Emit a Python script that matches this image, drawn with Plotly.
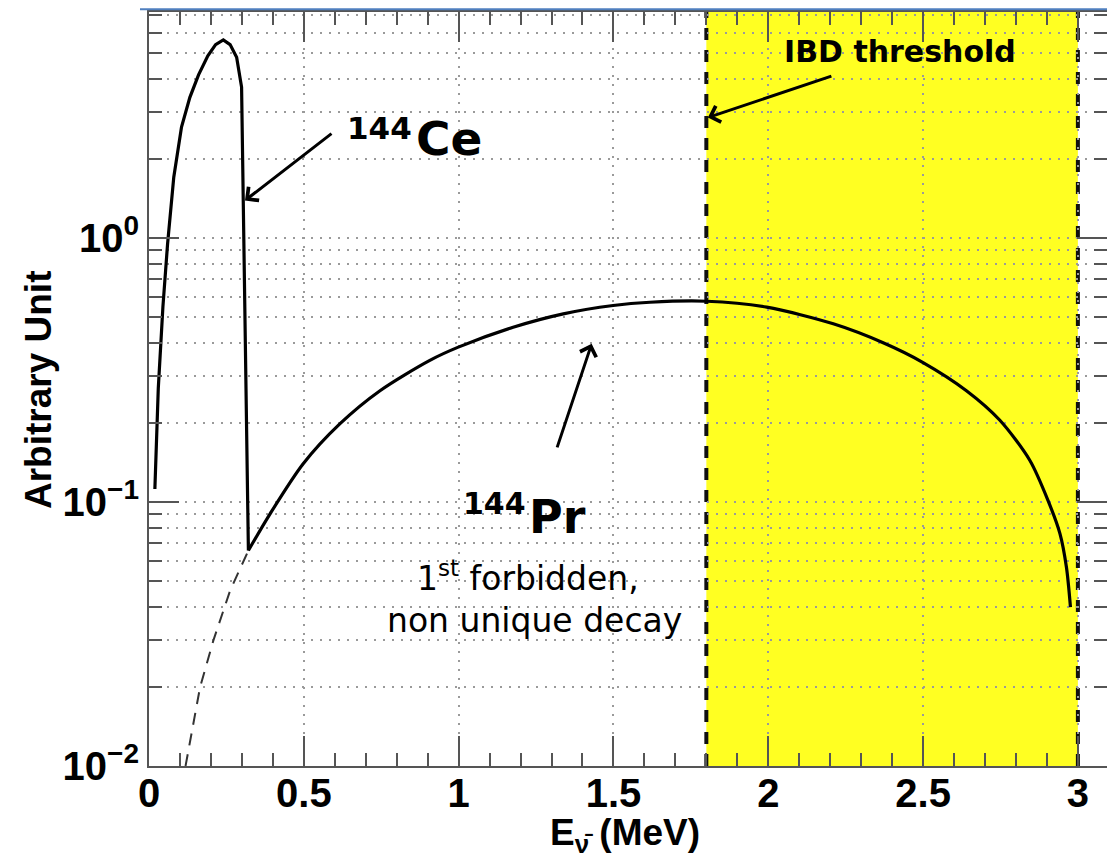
import plotly.graph_objects as go

# ---------------- data ----------------
# 144Ce + 144Pr summed spectrum, low-energy part (MeV, arbitrary units)
ce_energy = [0.019, 0.030, 0.045, 0.060, 0.080, 0.105, 0.132, 0.160, 0.190,
             0.215, 0.240, 0.262, 0.283, 0.299, 0.321]
ce_value = [0.112, 0.27, 0.55, 0.95, 1.70, 2.63, 3.41, 4.15, 4.90,
            5.40, 5.63, 5.40, 4.84, 3.73, 0.0655]

# 144Pr spectrum (solid part)
pr_energy = [0.321, 0.391, 0.498, 0.617, 0.746, 0.907, 0.999, 1.176, 1.338,
             1.499, 1.618, 1.801, 1.995, 2.210, 2.371, 2.500, 2.640, 2.748,
             2.845, 2.904, 2.942, 2.963, 2.976]
pr_value = [0.0655, 0.0902, 0.1396, 0.198, 0.264, 0.344, 0.386, 0.459, 0.516,
            0.555, 0.571, 0.576, 0.547, 0.473, 0.401, 0.3375, 0.264, 0.204,
            0.1436, 0.101, 0.0759, 0.0566, 0.040]

# 144Pr spectrum below the Ce endpoint (dashed)
pr_low_energy = [0.118, 0.165, 0.208, 0.262, 0.321]
pr_low_value = [0.010, 0.0199, 0.0299, 0.0462, 0.0655]

ibd_threshold = 1.8
pr_endpoint = 3.0

x_tick_values = [0, 0.5, 1, 1.5, 2, 2.5, 3]
x_tick_labels = ["0", "0.5", "1", "1.5", "2", "2.5", "3"]
x_minor_values = [0.1, 0.2, 0.3, 0.4, 0.6, 0.7, 0.8, 0.9, 1.1, 1.2, 1.3, 1.4,
                  1.6, 1.7, 1.8, 1.9, 2.1, 2.2, 2.3, 2.4, 2.6, 2.7, 2.8, 2.9, 3.1]
y_tick_values = [0.01, 0.1, 1]
y_tick_labels = ["10<sup>\u22122</sup>", "10<sup>\u22121</sup>", "10<sup>0</sup>"]
y_minor_values = [m * d for d in (0.01, 0.1, 1) for m in range(2, 10)]

FONT = "Liberation Sans, Arial, Helvetica, sans-serif"
NOTE_FONT = "DejaVu Sans, Verdana, sans-serif"
AXC = "#555555"
GRIDC = "#9a9a9a"

fig = go.Figure()

fig.add_trace(go.Scatter(x=pr_low_energy, y=pr_low_value, mode="lines",
                         line=dict(color="#333333", width=2, dash="12px,9px"),
                         showlegend=False, hoverinfo="skip"))
fig.add_trace(go.Scatter(x=ce_energy, y=ce_value, mode="lines",
                         line=dict(color="black", width=3.2),
                         showlegend=False))
fig.add_trace(go.Scatter(x=pr_energy, y=pr_value, mode="lines",
                         line=dict(color="black", width=3.2, shape="spline", smoothing=0.8),
                         showlegend=False))

# yellow region above IBD threshold
fig.add_shape(type="rect", xref="x", yref="paper", x0=ibd_threshold, x1=pr_endpoint,
              y0=0, y1=1, fillcolor="#FFFF22", line=dict(width=0), layer="below")
for xv in (ibd_threshold, pr_endpoint):
    fig.add_shape(type="line", xref="x", yref="paper", x0=xv, x1=xv, y0=0, y1=1,
                  line=dict(color="#111111", width=4, dash="12px,10px"), layer="below")

# thin blue line at the very top of the screenshot
fig.add_shape(type="line", xref="paper", yref="paper", x0=-0.0094, x1=1.0,
              y0=1.0035, y1=1.0035, line=dict(color="#4f7fbf", width=2))

axis_common = dict(
    showline=True, linecolor=AXC, linewidth=2, mirror="allticks",
    ticks="inside", ticklen=30, tickwidth=2, tickcolor=AXC,
    showgrid=True, gridcolor=GRIDC, gridwidth=1.5, griddash="2px,7px",
    zeroline=False,
    tickfont=dict(family=FONT, size=40, color="black", weight="bold"),
)

fig.update_xaxes(range=[0, 3.094], tickmode="array", tickvals=x_tick_values,
                 ticktext=x_tick_labels, ticklabelstandoff=-9,
                 minor=dict(tickmode="array", tickvals=x_minor_values, ticks="inside",
                            ticklen=13, tickwidth=2, tickcolor=AXC, showgrid=False),
                 **axis_common)
fig.update_yaxes(type="log", range=[-2, 0.856], tickmode="array",
                 tickvals=y_tick_values, ticktext=y_tick_labels,
                 ticklabelstandoff=0,
                 minor=dict(tickmode="array", tickvals=y_minor_values, ticks="inside",
                            ticklen=13, tickwidth=2, tickcolor=AXC, showgrid=True,
                            gridcolor=GRIDC, gridwidth=1.5, griddash="2px,7px"),
                 **axis_common)


def note(x, y, text, size, bold=True, xanchor="center", yanchor="middle"):
    return dict(x=x, y=y, xref="x", yref="y", xanchor=xanchor, yanchor=yanchor,
                text=text, showarrow=False, borderpad=0,
                font=dict(family=NOTE_FONT, size=size, color="black",
                          weight="bold" if bold else "normal"))


def arrow(x, y, ax, ay):
    return dict(x=x, y=y, xref="x", yref="y", text="", showarrow=True,
                ax=ax, ay=ay, arrowhead=4, arrowsize=1.1, arrowwidth=3,
                arrowcolor="black")


ann = [
    # 144Ce (y positions are log10 values on the log axis)
    note(0.8525, 0.4167, "144", 31, xanchor="right"),
    note(0.859, 0.375, "Ce", 47, xanchor="left"),
    arrow(0.310, 0.142, 88, -68),
    # IBD threshold
    note(2.425, 0.706, "IBD threshold", 30),
    arrow(1.805, 0.456, 125, -42),
    # 144Pr
    note(1.2207, -1.004, "144", 30, xanchor="right"),
    note(1.2239, -1.055, "Pr", 46, xanchor="left"),
    arrow(1.4296, -0.401, -35, 105),
    note(1.2255, -1.282, "1<sup>st</sup> forbidden,", 33, bold=False),
    note(1.2465, -1.449, "non unique decay", 33, bold=False),
    # axis titles
    dict(x=0.497, y=-0.0915, xref="paper", yref="paper", xanchor="center",
         yanchor="middle", text="E<sub>\u03bd\u0304</sub> (MeV)", showarrow=False,
         borderpad=0,
         font=dict(family=FONT, size=37, color="black", weight="bold")),
    dict(x=-0.1148, y=0.4987, xref="paper", yref="paper", xanchor="center",
         yanchor="middle", text="Arbitrary Unit", textangle=-90, showarrow=False,
         font=dict(family=FONT, size=37, color="black", weight="bold")),
]

fig.update_layout(
    width=1107, height=860,
    margin=dict(l=149, r=0, t=12, b=94, autoexpand=False),
    paper_bgcolor="white", plot_bgcolor="white",
    font=dict(family=FONT, color="black"),
    annotations=ann,
    showlegend=False,
)

fig.write_html("out.html", config={"displayModeBar": False},
               post_script="document.body.style.margin='0';"
                           "document.body.style.overflow='hidden';")
